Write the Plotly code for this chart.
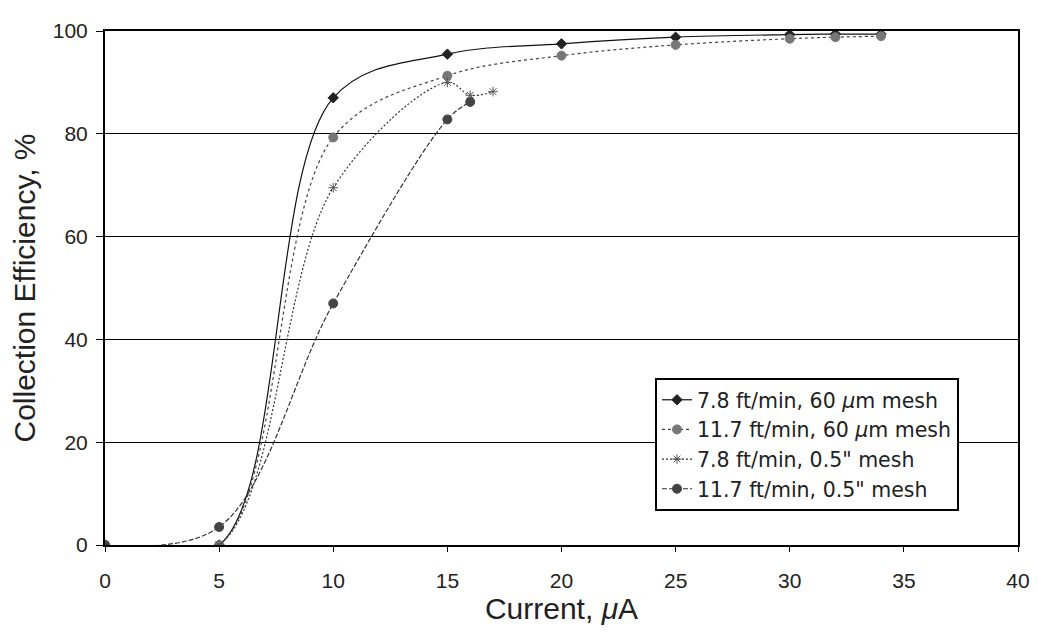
import plotly.graph_objects as go

names = ["7.8 ft/min, 60 <i>μ</i>m mesh", "11.7 ft/min, 60 <i>μ</i>m mesh",
         "7.8 ft/min, 0.5\" mesh", "11.7 ft/min, 0.5\" mesh"]
x1 = [0, 5, 10, 15, 20, 25, 30, 32, 34]
y1 = [0, 0, 87, 95.5, 97.5, 98.8, 99.3, 99.4, 99.4]
x2 = [0, 5, 10, 15, 20, 25, 30, 32, 34]
y2 = [0, 0, 79.3, 91.3, 95.2, 97.3, 98.5, 98.8, 99.0]
x3 = [0, 5, 10, 15, 16, 17]
y3 = [0, 0, 69.5, 90, 87.5, 88.2]
x4 = [0, 5, 10, 15, 16]
y4 = [0, 3.5, 47, 82.8, 86.2]

styles = [
    dict(dash="solid", symbol="diamond", color="#111111", mcolor="#222222", size=8),
    dict(dash="dot", symbol="circle-x", color="#444444", mcolor="#777777", size=9),
    dict(dash="2px,2px", symbol="asterisk-open", color="#333333", mcolor="#555555", size=8),
    dict(dash="5px,2px", symbol="circle-x", color="#333333", mcolor="#444444", size=9),
]

fig = go.Figure()
for n, xs, ys, st in zip(names, [x1, x2, x3, x4], [y1, y2, y3, y4], styles):
    fig.add_trace(go.Scatter(
        x=xs, y=ys, name=n, mode="lines+markers",
        line=dict(color=st["color"], width=1.2, dash=st["dash"], shape="spline", smoothing=1.0),
        marker=dict(symbol=st["symbol"], size=st["size"], color=st["mcolor"],
                    line=dict(color=st["mcolor"], width=1)),
    ))

font_family = "Liberation Sans, Arial, sans-serif"
fig.update_layout(
    width=1038, height=637,
    margin=dict(l=97, r=28, t=11, b=100),
    paper_bgcolor="white", plot_bgcolor="white",
    font=dict(family=font_family, size=21, color="#222222"),
    xaxis=dict(range=[0, 40], dtick=5, showgrid=False, showline=True, linecolor="black",
               linewidth=2, mirror=True, ticks="outside", ticklen=5, tickcolor="black",
               zeroline=False, tickfont=dict(size=21), ticklabelstandoff=11,
               ticklabeloverflow="allow",
               title=dict(text="Current, <i>μ</i>A", font=dict(size=30), standoff=2)),
    yaxis=dict(range=[0, 100], dtick=20, showgrid=True, gridcolor="black", gridwidth=1,
               showline=True, linecolor="black", linewidth=2, mirror=True,
               ticks="outside", ticklen=7, tickcolor="black", zeroline=False,
               tickfont=dict(size=21), ticklabelstandoff=4, ticklabeloverflow="allow",
               title=dict(text="Collection Efficiency, %", font=dict(size=30), standoff=9)),
    legend=dict(x=0.6024, y=0.325, xanchor="left", yanchor="top",
                bgcolor="white", bordercolor="black", borderwidth=2,
                font=dict(family="DejaVu Sans, sans-serif", size=20.5), tracegroupgap=0,
                itemwidth=30),
    showlegend=True,
)

fig.write_html("out.html")
